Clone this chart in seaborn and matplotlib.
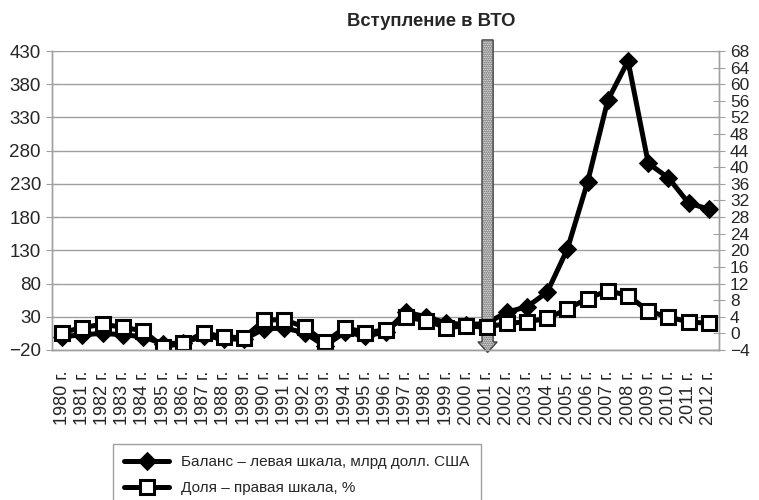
import matplotlib
matplotlib.use("Agg")
import matplotlib.pyplot as plt
import seaborn as sns
import numpy as np
import pandas as pd
from matplotlib import font_manager
from matplotlib.patches import FancyArrow

years = list(range(1980, 2013))
year_labels = [f"{y} г." for y in years]
balance = [0, 3, 5, 3, 0, -11, -9, 1, -3, -4, 12, 13, 6, -14, 7, 1, 7, 37, 30, 21,
           18, 20, 37, 45, 67, 132, 233, 356, 415, 261, 239, 201, 192]
dolya = [0.2, 1.4, 2.2, 1.5, 0.6, -3.2, -2.4, 0.2, -0.9, -1.0, 3.2, 3.3, 1.5, -2.1,
         1.4, 0.2, 0.8, 3.9, 3.1, 1.4, 1.8, 1.5, 2.4, 2.8, 3.6, 5.9, 8.4, 10.3, 9.1,
         5.4, 3.9, 2.8, 2.4]
left_ticks = [-20, 30, 80, 130, 180, 230, 280, 330, 380, 430]
right_ticks = list(range(-4, 69, 4))
title = "Вступление в ВТО"
legend_labels = ["Баланс – левая шкала, млрд долл. США", "Доля – правая шкала, %"]

sns.set_style("white")
names = {f.name for f in font_manager.fontManager.ttflist}
base = "Liberation Sans" if "Liberation Sans" in names else "DejaVu Sans"
plt.rcParams["font.family"] = [base, "DejaVu Sans"]

df = pd.DataFrame({"i": np.arange(len(years)), "balance": balance, "dolya": dolya})

fig = plt.figure(figsize=(7.59, 5.0), dpi=100)
ax = fig.add_axes([52 / 759, 1 - 350 / 500, 667 / 759, 299 / 500])
ax2 = ax.twinx()

sns.lineplot(data=df, x="i", y="balance", ax=ax, color="black", linewidth=3.6,
             marker="D", markersize=9, markerfacecolor="black",
             markeredgecolor="black", label=legend_labels[0], legend=False)
sns.lineplot(data=df, x="i", y="dolya", ax=ax2, color="black", linewidth=3.6,
             marker="s", markersize=10.5, markerfacecolor="white",
             markeredgecolor="black", markeredgewidth=2.2, label=legend_labels[1],
             legend=False)

ax.set_xlim(-0.5, len(years) - 0.5)
ax.set_ylim(-20, 430)
ax2.set_ylim(-4, 68)
ax.set_yticks(left_ticks)
ax2.set_yticks(right_ticks)
ax.set_xlabel("")
ax.set_ylabel("")
ax2.set_ylabel("")

gcol = "#a0a0a0"
ax.grid(axis="y", color=gcol, linewidth=1)
ax.grid(axis="x", visible=False)
ax2.grid(False)

ax.set_xticks(np.arange(-0.5, len(years), 1.0))
ax.set_xticklabels([])
ax.set_xticks(np.arange(len(years)), minor=True)
ax.set_xticklabels(year_labels, minor=True, rotation=90, fontsize=13,
                   va="top", ha="center")
ax.tick_params(axis="x", which="major", direction="out", length=6, color=gcol, width=1)
ax.tick_params(axis="x", which="minor", length=0, pad=15)
ax.tick_params(axis="y", direction="inout", length=8, color=gcol, labelsize=13.5, pad=4)
ax2.tick_params(axis="y", direction="inout", length=8, color=gcol, labelsize=12.5, pad=4)

for a in (ax, ax2):
    for s in a.spines.values():
        s.set_color(gcol)
        s.set_linewidth(1)
    a.spines["top"].set_visible(False)

# WTO arrow
ax.add_patch(FancyArrow(21.05, 1.037, 0, -1.045, width=0.55, head_width=0.95,
                        head_length=0.035, length_includes_head=True,
                        transform=ax.get_xaxis_transform(), facecolor="white",
                        edgecolor="#404040", hatch="........", linewidth=1,
                        clip_on=False, zorder=5))
fig.text(431 / 759, 1 - 22 / 500, title, ha="center", va="center", fontsize=13.3,
         fontweight="bold")

handles = ax.get_lines()[:1] + ax2.get_lines()[:1]
leg = fig.legend(handles, legend_labels, loc="upper left",
                 bbox_to_anchor=(113 / 759, 1 - 444 / 500), frameon=True,
                 fancybox=False, edgecolor="#888888", handlelength=2.9,
                 prop={"family": [base, "DejaVu Sans"], "size": 11},
                 borderpad=0.75, labelspacing=0.75, handletextpad=0.8,
                 borderaxespad=0)
leg.get_frame().set_linewidth(1)

fig.savefig("out.png", dpi=100)
